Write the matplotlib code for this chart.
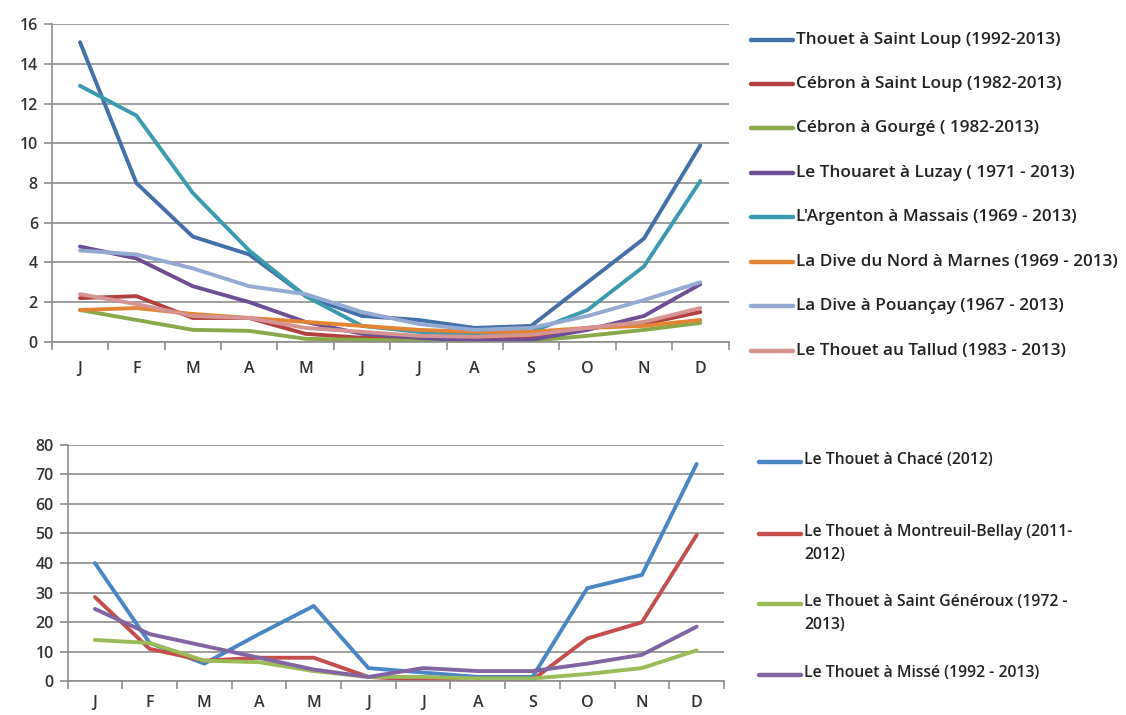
import numpy as np
import matplotlib
matplotlib.use('Agg')
import matplotlib.pyplot as plt
from matplotlib.lines import Line2D

plt.rcParams['font.family'] = ['Open Sans', 'DejaVu Sans']

mois = ['J', 'F', 'M', 'A', 'M', 'J', 'J', 'A', 'S', 'O', 'N', 'D']

# debits du haut
noms_haut = ["Thouet à Saint Loup (1992-2013)",
             "Cébron à Saint Loup (1982-2013)",
             "Cébron à Gourgé ( 1982-2013)",
             "Le Thouaret à Luzay ( 1971 - 2013)",
             "L'Argenton à Massais (1969 - 2013)",
             "La Dive du Nord à Marnes (1969 - 2013)",
             "La Dive à Pouançay (1967 - 2013)",
             "Le Thouet au Tallud (1983 - 2013)"]
thouet_st_loup = [15.1, 8.0, 5.3, 4.4, 2.3, 1.3, 1.1, 0.7, 0.8, 3.0, 5.2, 9.9]
cebron_st_loup = [2.2, 2.3, 1.2, 1.2, 0.4, 0.2, 0.15, 0.1, 0.2, 0.7, 0.9, 1.5]
cebron_gourge = [1.6, 1.1, 0.6, 0.55, 0.15, 0.1, 0.05, 0.02, 0.05, 0.3, 0.6, 0.95]
thouaret_luzay = [4.8, 4.2, 2.8, 2.0, 1.0, 0.4, 0.2, 0.05, 0.1, 0.6, 1.3, 2.9]
argenton = [12.9, 11.4, 7.5, 4.6, 2.3, 0.8, 0.5, 0.35, 0.5, 1.6, 3.8, 8.1]
dive_nord = [1.6, 1.7, 1.4, 1.2, 1.0, 0.8, 0.6, 0.5, 0.5, 0.7, 0.8, 1.1]
dive_pouancay = [4.6, 4.4, 3.7, 2.8, 2.4, 1.5, 0.9, 0.6, 0.7, 1.3, 2.1, 3.0]
thouet_tallud = [2.4, 1.9, 1.3, 1.2, 0.7, 0.5, 0.3, 0.25, 0.35, 0.7, 1.0, 1.7]
series_haut = [thouet_st_loup, cebron_st_loup, cebron_gourge, thouaret_luzay,
               argenton, dive_nord, dive_pouancay, thouet_tallud]
couleurs_haut = ['#4470A8', '#B2413E', '#89A84C', '#6C5093',
                 '#3A9BAE', '#E38334', '#93AAD2', '#D59392']

# debits du bas
noms_bas = ["Le Thouet à Chacé (2012)",
            "Le Thouet à Montreuil-Bellay (2011-\n2012)",
            "Le Thouet à Saint Généroux (1972 -\n2013)",
            "Le Thouet à Missé (1992 - 2013)"]
chace = [40, 13, 6, 16, 25.5, 4.5, 3, 1.5, 1.5, 31.5, 36, 73.5]
montreuil = [28.5, 11, 7, 8, 8, 1.5, 0.5, 0.3, 0.5, 14.5, 20, 49.5]
st_generoux = [14, 13, 7, 6.5, 3.5, 1.5, 1.5, 1, 1, 2.5, 4.5, 10.5]
misse = [24.5, 16, 12, 8, 4, 1.5, 4.5, 3.5, 3.5, 6, 9, 18.5]
series_bas = [chace, montreuil, st_generoux, misse]
couleurs_bas = ['#4A86C6', '#C44E4B', '#9BBB59', '#8165A3']

fig = plt.figure(figsize=(11.26, 7.15), dpi=100)
ax1 = fig.add_axes([0.046, 0.522, 0.601, 0.444])
ax2 = fig.add_axes([0.060, 0.047, 0.583, 0.331])

def style(ax, ymax, pas, pad_x):
    x = np.arange(12)
    ax.set_xlim(-0.5, 11.5)
    ax.set_ylim(0, ymax)
    ax.set_xticks(x)
    ax.set_xticklabels(mois)
    ax.set_xticks(np.arange(-0.5, 12, 1), minor=True)
    ax.set_yticks(np.arange(0, ymax + 1, pas))
    ax.tick_params(axis='x', which='major', length=0, pad=pad_x,
                   labelsize=11.5, labelcolor='#333333')
    ax.tick_params(axis='x', which='minor', length=6, width=1.2,
                   color='#8c8c8c', direction='out')
    ax.tick_params(axis='y', length=6, width=1.2, color='#8c8c8c',
                   labelsize=11.5, labelcolor='#333333', pad=4)
    for lab in ax.get_xticklabels() + ax.get_yticklabels():
        lab.set_fontweight('semibold')
    ax.grid(axis='y', color='#8c8c8c', lw=1.2)
    ax.set_axisbelow(True)
    for s in ['top', 'right']:
        ax.spines[s].set_visible(False)
    for s in ['left', 'bottom']:
        ax.spines[s].set_color('#8c8c8c')
        ax.spines[s].set_linewidth(1.2)

x = np.arange(12)
for s, c in zip(series_haut, couleurs_haut):
    ax1.plot(x, s, color=c, lw=2.8, solid_capstyle='round')
style(ax1, 16, 2, 14)

for s, c in zip(series_bas, couleurs_bas):
    ax2.plot(x, s, color=c, lw=2.8, solid_capstyle='round')
style(ax2, 80, 10, 10)

# legendes
W, H = 1126, 715
y_haut = [40, 84, 128, 173, 217, 262, 306, 351]
for y, nom, c in zip(y_haut, noms_haut, couleurs_haut):
    fig.add_artist(Line2D([751 / W, 793 / W], [1 - y / H, 1 - y / H],
                          color=c, lw=3.2, solid_capstyle='round'))
    fig.text(796 / W, 1 - y / H, nom, fontsize=12.3, fontweight='semibold',
             color='#222222', va='center', ha='left')

y_bas = [462, 534, 604, 675]
for y, nom, c in zip(y_bas, noms_bas, couleurs_bas):
    fig.add_artist(Line2D([759 / W, 801 / W], [1 - y / H, 1 - y / H],
                          color=c, lw=3.2, solid_capstyle='round'))
    fig.text(804 / W, 1 - (y - 10) / H, nom, fontsize=11.3, fontweight='semibold',
             color='#222222', va='top', ha='left', linespacing=1.6)

fig.savefig('out.png', dpi=100)
